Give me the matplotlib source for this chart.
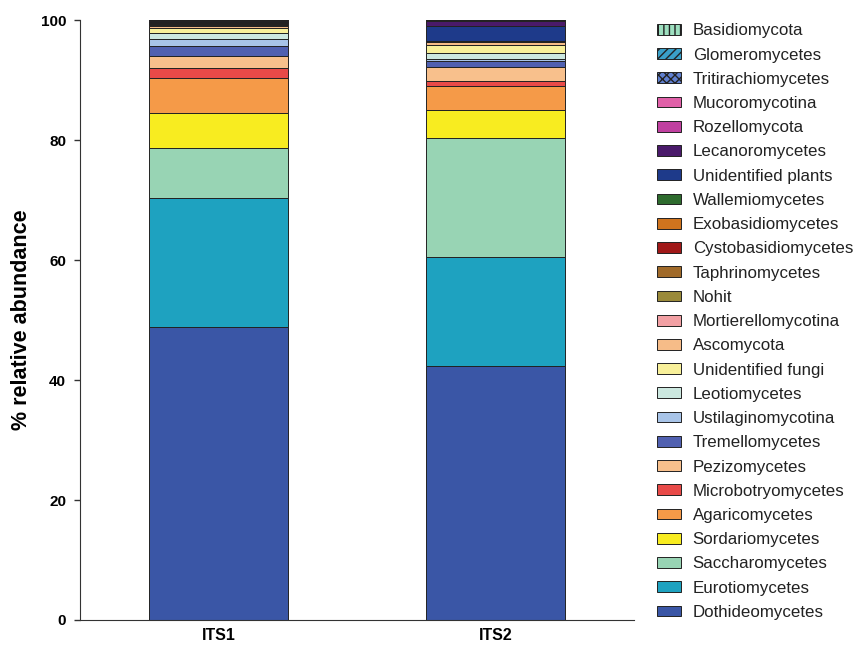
import matplotlib
matplotlib.use('Agg')
import matplotlib.pyplot as plt
import numpy as np

plt.rcParams['font.family'] = ['Liberation Sans', 'DejaVu Sans']

# 样本
samples = ['ITS1', 'ITS2']

# 类群（自下而上堆叠）
taxa = ['Dothideomycetes', 'Eurotiomycetes', 'Saccharomycetes', 'Sordariomycetes',
        'Agaricomycetes', 'Microbotryomycetes', 'Pezizomycetes', 'Tremellomycetes',
        'Ustilaginomycotina', 'Leotiomycetes', 'Unidentified fungi', 'Ascomycota',
        'Mortierellomycotina', 'Nohit', 'Taphrinomycetes', 'Cystobasidiomycetes',
        'Exobasidiomycetes', 'Wallemiomycetes', 'Unidentified plants', 'Lecanoromycetes',
        'Rozellomycota', 'Mucoromycotina', 'Tritirachiomycetes', 'Glomeromycetes',
        'Basidiomycota']

its1 = [48.8, 21.5, 8.4, 5.9, 5.7, 1.8, 1.9, 1.7, 1.1, 1.1, 0.8, 0.4,
        0.1, 0.22, 0.15, 0.05, 0.05, 0.03, 0.1, 0.1, 0.02, 0.02, 0.02, 0.02, 0.02]
its2 = [42.3, 18.2, 19.8, 4.8, 3.9, 0.8, 2.4, 1.0, 0.3, 1.1, 1.3, 0.4,
        0.02, 0.1, 0.03, 0.02, 0.02, 0.01, 2.6, 0.75, 0.05, 0.05, 0.02, 0.02, 0.01]

colors = ['#3a56a6', '#1ea2c0', '#98d4b4', '#f8ec20', '#f59a48', '#e84a48',
          '#f8c08c', '#5060b0', '#a8c4e8', '#cce8e0', '#f8f09a', '#f6bc88',
          '#f2a0a4', '#9a8a3a', '#a06a2a', '#a01818', '#d0741e', '#2e6b2e',
          '#1e3a8a', '#4a1a6a', '#c040a0', '#e060a8', '#6080d0', '#3aa0c8',
          '#9ee0c0']
hatches = [None] * 22 + ['xxxx', '////', '|||']

data = np.array([its1, its2])  # shape (2, n_taxa)

fig = plt.figure(figsize=(8.55, 6.45), dpi=100)
ax = fig.add_axes([0.0936, 0.0388, 0.648, 0.930])

x = np.arange(len(samples))
bottom = np.zeros(len(samples))
handles = []
for i, name in enumerate(taxa):
    b = ax.bar(x, data[:, i], bottom=bottom, width=0.5, color=colors[i],
               edgecolor='#222222', linewidth=0.7, hatch=hatches[i], label=name)
    handles.append(b)
    bottom += data[:, i]

ax.set_xlim(-0.5, 1.5)
ax.set_ylim(0, 100)
ax.set_yticks([0, 20, 40, 60, 80, 100])
ax.set_xticks(x)
ax.set_xticklabels(samples, fontsize=11.5, fontweight='bold')
for lab in ax.get_yticklabels():
    lab.set_fontsize(11)
    lab.set_fontweight('bold')
ax.tick_params(axis='x', length=0, pad=6)
ax.tick_params(axis='y', length=4, width=1, pad=6, color='#333333')
ax.set_ylabel('% relative abundance', fontsize=15.5, fontweight='bold', labelpad=6)

ax.spines['top'].set_visible(False)
ax.spines['right'].set_visible(False)
ax.spines['left'].set_color('#333333')
ax.spines['bottom'].set_color('#333333')

leg = ax.legend(handles[::-1], taxa[::-1], loc='upper left',
                bbox_to_anchor=(1.03, 1.006), frameon=False, fontsize=12.2,
                handlelength=1.36, handleheight=0.6, labelspacing=0.545,
                handletextpad=0.72, borderaxespad=0)
for t in leg.get_texts():
    t.set_color('#222222')

plt.savefig('out.png', dpi=100)
plt.close()
